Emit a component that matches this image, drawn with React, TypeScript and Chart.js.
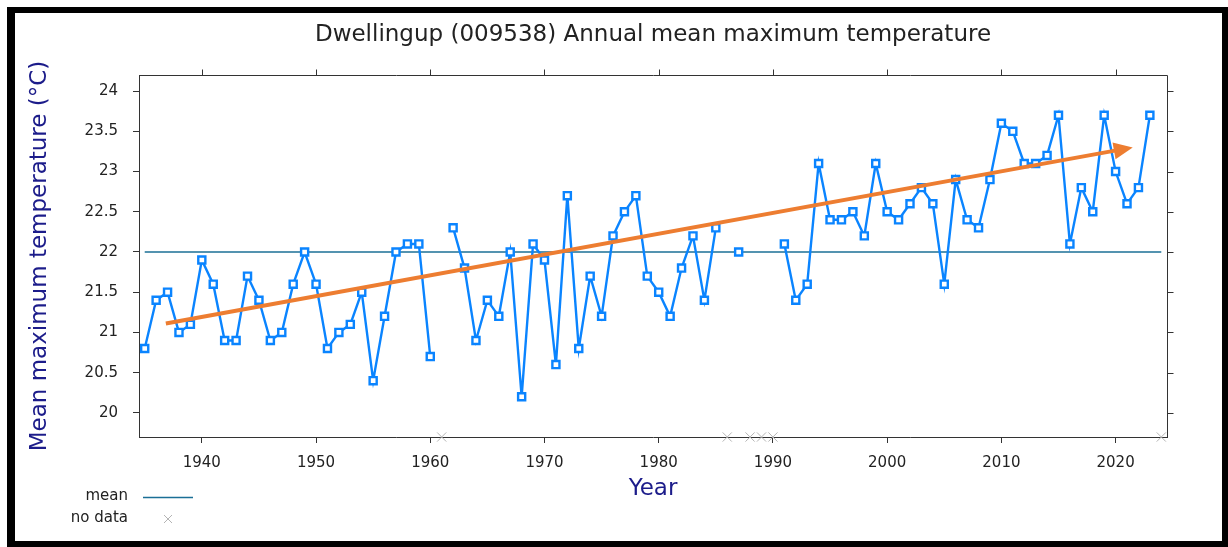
import React, { useEffect, useRef } from "react";
import { Chart, registerables } from "chart.js";

Chart.register(...registerables);

// ---------- data ----------
const years = [
  1935, 1936, 1937, 1938, 1939, 1940, 1941, 1942, 1943, 1944,
  1945, 1946, 1947, 1948, 1949, 1950, 1951, 1952, 1953, 1954,
  1955, 1956, 1957, 1958, 1959, 1960, 1961, 1962, 1963, 1964,
  1965, 1966, 1967, 1968, 1969, 1970, 1971, 1972, 1973, 1974,
  1975, 1976, 1977, 1978, 1979, 1980, 1981, 1982, 1983, 1984,
  1985, 1986, 1987, 1988, 1989, 1990, 1991, 1992, 1993, 1994,
  1995, 1996, 1997, 1998, 1999, 2000, 2001, 2002, 2003, 2004,
  2005, 2006, 2007, 2008, 2009, 2010, 2011, 2012, 2013, 2014,
  2015, 2016, 2017, 2018, 2019, 2020, 2021, 2022, 2023, 2024,
];

const maxTemps: (number | null)[] = [
  20.8, 21.4, 21.5, 21.0, 21.1, 21.9, 21.6, 20.9, 20.9, 21.7,
  21.4, 20.9, 21.0, 21.6, 22.0, 21.6, 20.8, 21.0, 21.1, 21.5,
  20.4, 21.2, 22.0, 22.1, 22.1, 20.7, null, 22.3, 21.8, 20.9,
  21.4, 21.2, 22.0, 20.2, 22.1, 21.9, 20.6, 22.7, 20.8, 21.7,
  21.2, 22.2, 22.5, 22.7, 21.7, 21.5, 21.2, 21.8, 22.2, 21.4,
  22.3, null, 22.0, null, null, null, 22.1, 21.4, 21.6, 23.1,
  22.4, 22.4, 22.5, 22.2, 23.1, 22.5, 22.4, 22.6, 22.8, 22.6,
  21.6, 22.9, 22.4, 22.3, 22.9, 23.6, 23.5, 23.1, 23.1, 23.2,
  23.7, 22.1, 22.8, 22.5, 23.7, 23.0, 22.6, 22.8, 23.7, null,
];

const meanValue = 22.0;
const meanSpan = [1935, 2024];
const noDataYears = [1961, 1986, 1988, 1989, 1990, 2024];

const trendStart = [1936.85, 21.11];
const trendEnd = [2021.5, 23.3];

const xTicks = [1940, 1950, 1960, 1970, 1980, 1990, 2000, 2010, 2020];
const yTicks = [20, 20.5, 21, 21.5, 22, 22.5, 23, 23.5, 24];
const xRange = [1934.5, 2024.5];
const yRange = [19.7, 24.2];

const titleText = "Dwellingup (009538) Annual mean maximum temperature";
const yTitle = "Mean maximum temperature (°C)";
const xTitle = "Year";
const legendLabels = ["mean", "no data"];

// ---------- style ----------
const FONT = "'DejaVu Sans', Verdana, sans-serif";
const BLUE = "#0a84ff";
const MEAN = "#1b6f96";
const ORANGE = "#ed7d31";
const NAVY = "#1c1c8a";
const AXIS = "#333333";
const TEXT = "#222222";
const NODATA = "#b4b4b4";

const decorPlugin = {
  id: "decor",
  afterDraw(chart: any) {
    const { ctx, chartArea: ca, scales } = chart;
    const x = scales.x;
    const y = scales.y;
    ctx.save();

    // top & right frame with outward ticks
    ctx.strokeStyle = AXIS;
    ctx.lineWidth = 1;
    const top = Math.round(ca.top) + 0.5;
    const right = Math.round(ca.right) + 0.5;
    ctx.beginPath();
    ctx.moveTo(Math.round(ca.left) + 0.5, top);
    ctx.lineTo(right, top);
    ctx.lineTo(right, Math.round(ca.bottom) + 0.5);
    for (const v of xTicks) {
      const px = Math.round(x.getPixelForValue(v)) + 0.5;
      ctx.moveTo(px, top);
      ctx.lineTo(px, top - 6);
    }
    for (const v of yTicks) {
      const py = Math.round(y.getPixelForValue(v)) + 0.5;
      ctx.moveTo(right, py);
      ctx.lineTo(right + 6, py);
    }
    ctx.stroke();

    // trend arrow
    const x0 = x.getPixelForValue(trendStart[0]);
    const y0 = y.getPixelForValue(trendStart[1]);
    const x1 = x.getPixelForValue(trendEnd[0]);
    const y1 = y.getPixelForValue(trendEnd[1]);
    const ang = Math.atan2(y1 - y0, x1 - x0);
    const c = Math.cos(ang);
    const s = Math.sin(ang);
    const headLen = 19;
    const headHalf = 8.5;
    const bx = x1 - headLen * c;
    const by = y1 - headLen * s;
    ctx.strokeStyle = ORANGE;
    ctx.fillStyle = ORANGE;
    ctx.lineWidth = 4;
    ctx.lineCap = "butt";
    ctx.beginPath();
    ctx.moveTo(x0, y0);
    ctx.lineTo(bx + c, by + s);
    ctx.stroke();
    ctx.beginPath();
    ctx.moveTo(x1, y1);
    ctx.lineTo(bx - s * headHalf, by + c * headHalf);
    ctx.lineTo(bx + s * headHalf, by - c * headHalf);
    ctx.closePath();
    ctx.fill();

    // legend
    ctx.font = `15px ${FONT}`;
    ctx.fillStyle = TEXT;
    ctx.textAlign = "right";
    ctx.textBaseline = "middle";
    ctx.fillText(legendLabels[0], 128, 496);
    ctx.fillText(legendLabels[1], 128, 518);
    ctx.strokeStyle = MEAN;
    ctx.lineWidth = 1.5;
    ctx.beginPath();
    ctx.moveTo(143, 497.5);
    ctx.lineTo(193, 497.5);
    ctx.stroke();
    ctx.strokeStyle = NODATA;
    ctx.lineWidth = 1;
    ctx.beginPath();
    ctx.moveTo(164, 515);
    ctx.lineTo(172, 523);
    ctx.moveTo(172, 515);
    ctx.lineTo(164, 523);
    ctx.stroke();

    ctx.restore();
  },
};

export default function App() {
  const ref = useRef<HTMLCanvasElement>(null);

  useEffect(() => {
    const canvas = ref.current;
    if (!canvas) return;
    Chart.defaults.font.family = FONT;

    const chart = new Chart(canvas, {
      type: "line",
      data: {
        datasets: [
          {
            label: "Annual mean maximum temperature",
            data: years.map((yr, i) => ({ x: yr, y: maxTemps[i] })),
            borderColor: BLUE,
            borderWidth: 2.4,
            pointStyle: "rect",
            pointRadius: 5,
            pointBorderWidth: 2.4,
            pointBackgroundColor: "#ffffff",
            pointBorderColor: BLUE,
            spanGaps: false,
            tension: 0,
          },
          {
            label: "mean",
            data: meanSpan.map((yr) => ({ x: yr, y: meanValue })),
            borderColor: MEAN,
            borderWidth: 1.5,
            pointRadius: 0,
          },
          {
            label: "no data",
            data: noDataYears.map((yr) => ({ x: yr, y: yRange[0] })),
            showLine: false,
            pointStyle: "crossRot",
            pointRadius: 6.5,
            pointBorderWidth: 1,
            pointBorderColor: NODATA,
            pointBackgroundColor: NODATA,
            clip: false,
          } as any,
        ],
      },
      options: {
        responsive: false,
        animation: false,
        events: [],
        layout: { padding: { left: 16, right: 61, top: 14, bottom: 40 } },
        plugins: {
          legend: { display: false },
          tooltip: { enabled: false },
          title: {
            display: true,
            text: titleText,
            fullSize: false,
            color: TEXT,
            font: { size: 23, weight: "normal" },
            padding: { top: 7, bottom: 26.4 },
          },
        },
        scales: {
          x: {
            type: "linear",
            min: xRange[0],
            max: xRange[1],
            afterBuildTicks: (s: any) => {
              s.ticks = xTicks.map((v) => ({ value: v }));
            },
            afterFit: (s: any) => {
              s.height = 70;
            },
            ticks: {
              callback: (v: any) => String(v),
              color: TEXT,
              font: { size: 15 },
              padding: 11,
              maxRotation: 0,
              autoSkip: false,
            },
            grid: { drawOnChartArea: false, tickLength: 6, color: AXIS },
            border: { display: true, color: AXIS, width: 1 },
            title: {
              display: true,
              text: xTitle,
              color: NAVY,
              font: { size: 23 },
              padding: { top: 0, bottom: 4 },
            },
          },
          y: {
            type: "linear",
            min: yRange[0],
            max: yRange[1],
            afterBuildTicks: (s: any) => {
              s.ticks = yTicks.map((v) => ({ value: v }));
            },
            afterFit: (s: any) => {
              s.width = 123;
            },
            ticks: {
              callback: (v: any) => String(v),
              color: TEXT,
              font: { size: 15 },
              padding: 15,
            },
            grid: { drawOnChartArea: false, tickLength: 6, color: AXIS },
            border: { display: true, color: AXIS, width: 1 },
            title: {
              display: true,
              text: yTitle,
              color: NAVY,
              font: { size: 23 },
              padding: { top: 10, bottom: 0 },
            },
          },
        },
      },
      plugins: [decorPlugin],
    } as any);

    return () => chart.destroy();
  }, []);

  return (
    <div
      style={{
        position: "fixed",
        left: 0,
        top: 0,
        width: 1228,
        height: 547,
        background: "#ffffff",
        overflow: "hidden",
      }}
    >
      <div
        style={{
          position: "absolute",
          left: 7,
          top: 7,
          width: 1221,
          height: 540,
          boxSizing: "border-box",
          borderStyle: "solid",
          borderColor: "#000000",
          borderWidth: "6px 6px 6px 8px",
        }}
      />
      <canvas
        ref={ref}
        width={1228}
        height={547}
        style={{ position: "absolute", left: 0, top: 0, width: 1228, height: 547 }}
      />
    </div>
  );
}
